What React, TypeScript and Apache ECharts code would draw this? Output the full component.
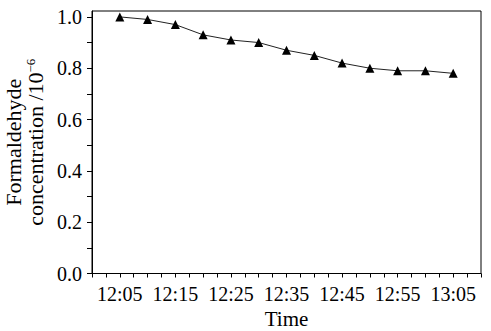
import React, { useEffect, useRef } from "react";
import * as echarts from "echarts";

const times = ["12:05", "12:10", "12:15", "12:20", "12:25", "12:30", "12:35", "12:40", "12:45", "12:50", "12:55", "13:00", "13:05"];
const concentration = [1.0, 0.99, 0.97, 0.93, 0.91, 0.9, 0.87, 0.85, 0.82, 0.8, 0.79, 0.79, 0.78];
const xTickLabels = ["12:05", "12:15", "12:25", "12:35", "12:45", "12:55", "13:05"];
const yTickValues = [0, 0.1, 0.2, 0.3, 0.4, 0.5, 0.6, 0.7, 0.8, 0.9, 1.0];
const yLabelValues = [0, 0.2, 0.4, 0.6, 0.8, 1.0];

const BASE = 12 * 60; // minutes of 12:00
const toMin = (t: string) => {
  const [h, m] = t.split(":").map(Number);
  return h * 60 + m - BASE;
};
const toTime = (v: number) => {
  const total = Math.round(v) + BASE;
  const h = Math.floor(total / 60);
  const m = total % 60;
  return `${h}:${m < 10 ? "0" + m : m}`;
};

const FONT = "'Liberation Serif', 'Times New Roman', serif";

export default function App() {
  const ref = useRef<HTMLDivElement>(null);
  useEffect(() => {
    if (!ref.current) return;
    const chart = echarts.init(ref.current, null, { renderer: "svg" });
    const labelSet = new Set(xTickLabels.map(toMin));
    chart.setOption({
      animation: false,
      backgroundColor: "#fff",
      textStyle: { fontFamily: FONT },
      grid: {
        left: 92,
        top: 11,
        right: 10,
        bottom: 57.5,
        containLabel: false,
        outerBoundsMode: "none",
        show: true,
        borderColor: "#000",
        borderWidth: 1,
        backgroundColor: "transparent",
      },
      xAxis: {
        type: "value",
        min: 0,
        max: 70,
        interval: 2.5,
        name: "Time",
        nameLocation: "middle",
        nameGap: 33,
        nameTextStyle: { fontFamily: FONT, fontSize: 21, color: "#000" },
        axisLine: { show: true, lineStyle: { color: "#000", width: 1 } },
        axisTick: { show: true, length: 4, lineStyle: { color: "#000" } },
        splitLine: { show: false },
        axisLabel: {
          margin: 10,
          fontFamily: FONT,
          fontSize: 20,
          color: "#000",
          showMinLabel: true,
          showMaxLabel: true,
          hideOverlap: false,
          formatter: (v: number) => (labelSet.has(v) ? toTime(v) : ""),
        },
      },
      yAxis: {
        type: "value",
        min: 0,
        max: 1.023,
        name: "Formaldehyde\nconcentration /10{sup|−6}",
        nameLocation: "middle",
        nameRotate: 90,
        nameGap: 32,
        nameTextStyle: {
          fontFamily: FONT,
          fontSize: 22,
          color: "#000",
          lineHeight: 22,
          rich: {
            sup: { fontFamily: FONT, fontSize: 13, color: "#000", verticalAlign: "top", lineHeight: 22 },
          },
        },
        axisLine: { show: true, lineStyle: { color: "#000", width: 1 } },
        axisTick: { show: true, length: 5, customValues: yTickValues, lineStyle: { color: "#000" } },
        splitLine: { show: false },
        axisLabel: {
          margin: 10,
          fontFamily: FONT,
          fontSize: 20,
          color: "#000",
          customValues: yLabelValues,
          formatter: (v: number) => v.toFixed(1),
        },
      },
      series: [
        {
          type: "line",
          data: times.map((t, i) => [toMin(t), concentration[i]]),
          symbol: "triangle",
          symbolSize: 9,
          itemStyle: { color: "#000" },
          lineStyle: { color: "#222", width: 1 },
        },
      ],
    });
    return () => chart.dispose();
  }, []);
  return <div ref={ref} style={{ position: "fixed", left: 0, top: 0, width: 491, height: 331 }} />;
}
